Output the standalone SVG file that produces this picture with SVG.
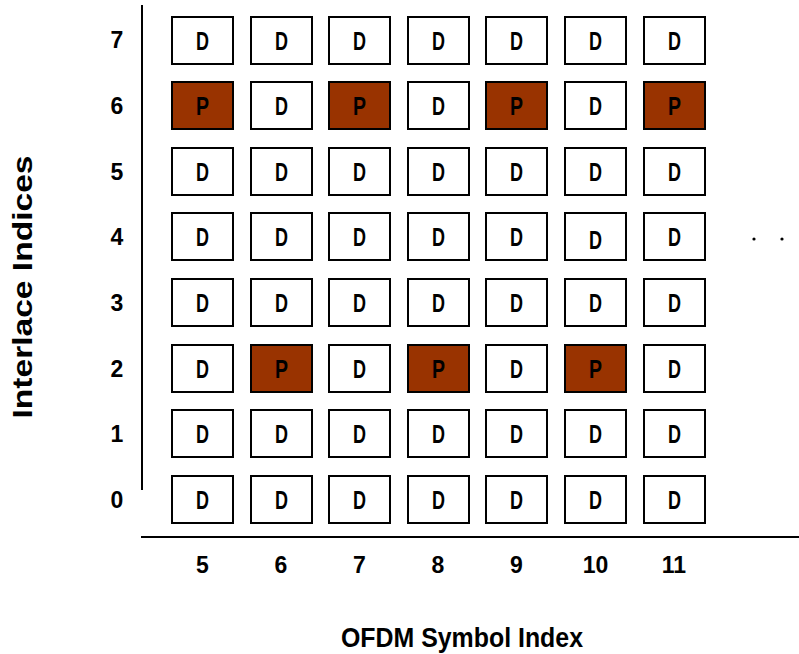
<svg xmlns="http://www.w3.org/2000/svg" width="799" height="654" viewBox="0 0 799 654">
<style>
.box{fill:#fff;stroke:#000;stroke-width:2}
.pbox{fill:#993300;stroke:#000;stroke-width:2}
.lt{font-family:"Liberation Sans",Arial,sans-serif;font-size:26px;font-weight:bold;text-anchor:middle;fill:#000}
.num{font-family:"Liberation Sans",Arial,sans-serif;font-size:23px;font-weight:bold;text-anchor:middle;fill:#000}
.title{font-family:"Liberation Sans",Arial,sans-serif;font-size:27px;font-weight:bold;text-anchor:middle;fill:#000}
.ax{stroke:#000;stroke-width:2;fill:none}
</style>
<g id="axes">
<line class="ax" x1="142" y1="5" x2="142" y2="490"/>
<line class="ax" x1="141" y1="537" x2="799" y2="537"/>
<circle cx="754" cy="239" r="1.6" fill="#000"/>
<circle cx="782" cy="239" r="1.6" fill="#000"/>
</g>
<g id="row-labels">
<text class="num" x="117" y="48">7</text>
<text class="num" x="117" y="114">6</text>
<text class="num" x="117" y="180">5</text>
<text class="num" x="117" y="245">4</text>
<text class="num" x="117" y="311">3</text>
<text class="num" x="117" y="377">2</text>
<text class="num" x="117" y="442">1</text>
<text class="num" x="117" y="508">0</text>
</g>
<g id="col-labels">
<text class="num" x="202.5" y="573">5</text>
<text class="num" x="281" y="573">6</text>
<text class="num" x="359.5" y="573">7</text>
<text class="num" x="438" y="573">8</text>
<text class="num" x="516.5" y="573">9</text>
<text class="num" x="595.5" y="573">10</text>
<text class="num" x="674" y="573">11</text>
</g>
<g id="axis-titles">
<text class="title" x="462" y="647" textLength="242" lengthAdjust="spacingAndGlyphs">OFDM  Symbol  Index</text>
<text class="title" transform="translate(32,287) rotate(-90)" x="0" y="0" textLength="263" lengthAdjust="spacingAndGlyphs">Interlace  Indices</text>
</g>
<g id="grid">
<!-- row 7 -->
<g id="r7c5"><rect class="box" x="172" y="17" width="61" height="47"/><text class="lt" x="202.5" y="50" textLength="13" lengthAdjust="spacingAndGlyphs">D</text></g>
<g id="r7c6"><rect class="box" x="251" y="17" width="61" height="47"/><text class="lt" x="281.5" y="50" textLength="13" lengthAdjust="spacingAndGlyphs">D</text></g>
<g id="r7c7"><rect class="box" x="329" y="17" width="61" height="47"/><text class="lt" x="359.5" y="50" textLength="13" lengthAdjust="spacingAndGlyphs">D</text></g>
<g id="r7c8"><rect class="box" x="408" y="17" width="61" height="47"/><text class="lt" x="438.5" y="50" textLength="13" lengthAdjust="spacingAndGlyphs">D</text></g>
<g id="r7c9"><rect class="box" x="486" y="17" width="61" height="47"/><text class="lt" x="516.5" y="50" textLength="13" lengthAdjust="spacingAndGlyphs">D</text></g>
<g id="r7c10"><rect class="box" x="565" y="17" width="61" height="47"/><text class="lt" x="595.5" y="50" textLength="13" lengthAdjust="spacingAndGlyphs">D</text></g>
<g id="r7c11"><rect class="box" x="644" y="17" width="61" height="47"/><text class="lt" x="674.5" y="50" textLength="13" lengthAdjust="spacingAndGlyphs">D</text></g>
<!-- row 6 -->
<g id="r6c5"><rect class="pbox" x="172" y="82" width="61" height="47"/><text class="lt" x="202.5" y="115" textLength="13" lengthAdjust="spacingAndGlyphs">P</text></g>
<g id="r6c6"><rect class="box" x="251" y="82" width="61" height="47"/><text class="lt" x="281.5" y="115" textLength="13" lengthAdjust="spacingAndGlyphs">D</text></g>
<g id="r6c7"><rect class="pbox" x="329" y="82" width="61" height="47"/><text class="lt" x="359.5" y="115" textLength="13" lengthAdjust="spacingAndGlyphs">P</text></g>
<g id="r6c8"><rect class="box" x="408" y="82" width="61" height="47"/><text class="lt" x="438.5" y="115" textLength="13" lengthAdjust="spacingAndGlyphs">D</text></g>
<g id="r6c9"><rect class="pbox" x="486" y="82" width="61" height="47"/><text class="lt" x="516.5" y="115" textLength="13" lengthAdjust="spacingAndGlyphs">P</text></g>
<g id="r6c10"><rect class="box" x="565" y="82" width="61" height="47"/><text class="lt" x="595.5" y="115" textLength="13" lengthAdjust="spacingAndGlyphs">D</text></g>
<g id="r6c11"><rect class="pbox" x="644" y="82" width="61" height="47"/><text class="lt" x="674.5" y="115" textLength="13" lengthAdjust="spacingAndGlyphs">P</text></g>
<!-- row 5 -->
<g id="r5c5"><rect class="box" x="172" y="148" width="61" height="47"/><text class="lt" x="202.5" y="181" textLength="13" lengthAdjust="spacingAndGlyphs">D</text></g>
<g id="r5c6"><rect class="box" x="251" y="148" width="61" height="47"/><text class="lt" x="281.5" y="181" textLength="13" lengthAdjust="spacingAndGlyphs">D</text></g>
<g id="r5c7"><rect class="box" x="329" y="148" width="61" height="47"/><text class="lt" x="359.5" y="181" textLength="13" lengthAdjust="spacingAndGlyphs">D</text></g>
<g id="r5c8"><rect class="box" x="408" y="148" width="61" height="47"/><text class="lt" x="438.5" y="181" textLength="13" lengthAdjust="spacingAndGlyphs">D</text></g>
<g id="r5c9"><rect class="box" x="486" y="148" width="61" height="47"/><text class="lt" x="516.5" y="181" textLength="13" lengthAdjust="spacingAndGlyphs">D</text></g>
<g id="r5c10"><rect class="box" x="565" y="148" width="61" height="47"/><text class="lt" x="595.5" y="181" textLength="13" lengthAdjust="spacingAndGlyphs">D</text></g>
<g id="r5c11"><rect class="box" x="644" y="148" width="61" height="47"/><text class="lt" x="674.5" y="181" textLength="13" lengthAdjust="spacingAndGlyphs">D</text></g>
<!-- row 4 -->
<g id="r4c5"><rect class="box" x="172" y="213" width="61" height="47"/><text class="lt" x="202.5" y="246" textLength="13" lengthAdjust="spacingAndGlyphs">D</text></g>
<g id="r4c6"><rect class="box" x="251" y="213" width="61" height="47"/><text class="lt" x="281.5" y="246" textLength="13" lengthAdjust="spacingAndGlyphs">D</text></g>
<g id="r4c7"><rect class="box" x="329" y="213" width="61" height="47"/><text class="lt" x="359.5" y="246" textLength="13" lengthAdjust="spacingAndGlyphs">D</text></g>
<g id="r4c8"><rect class="box" x="408" y="213" width="61" height="47"/><text class="lt" x="438.5" y="246" textLength="13" lengthAdjust="spacingAndGlyphs">D</text></g>
<g id="r4c9"><rect class="box" x="486" y="213" width="61" height="47"/><text class="lt" x="516.5" y="246" textLength="13" lengthAdjust="spacingAndGlyphs">D</text></g>
<g id="r4c10"><rect class="box" x="565" y="213" width="61" height="47"/><text class="lt" x="595.5" y="249" textLength="13" lengthAdjust="spacingAndGlyphs">D</text></g>
<g id="r4c11"><rect class="box" x="644" y="213" width="61" height="47"/><text class="lt" x="674.5" y="246" textLength="13" lengthAdjust="spacingAndGlyphs">D</text></g>
<!-- row 3 -->
<g id="r3c5"><rect class="box" x="172" y="279" width="61" height="47"/><text class="lt" x="202.5" y="312" textLength="13" lengthAdjust="spacingAndGlyphs">D</text></g>
<g id="r3c6"><rect class="box" x="251" y="279" width="61" height="47"/><text class="lt" x="281.5" y="312" textLength="13" lengthAdjust="spacingAndGlyphs">D</text></g>
<g id="r3c7"><rect class="box" x="329" y="279" width="61" height="47"/><text class="lt" x="359.5" y="312" textLength="13" lengthAdjust="spacingAndGlyphs">D</text></g>
<g id="r3c8"><rect class="box" x="408" y="279" width="61" height="47"/><text class="lt" x="438.5" y="312" textLength="13" lengthAdjust="spacingAndGlyphs">D</text></g>
<g id="r3c9"><rect class="box" x="486" y="279" width="61" height="47"/><text class="lt" x="516.5" y="312" textLength="13" lengthAdjust="spacingAndGlyphs">D</text></g>
<g id="r3c10"><rect class="box" x="565" y="279" width="61" height="47"/><text class="lt" x="595.5" y="312" textLength="13" lengthAdjust="spacingAndGlyphs">D</text></g>
<g id="r3c11"><rect class="box" x="644" y="279" width="61" height="47"/><text class="lt" x="674.5" y="312" textLength="13" lengthAdjust="spacingAndGlyphs">D</text></g>
<!-- row 2 -->
<g id="r2c5"><rect class="box" x="172" y="345" width="61" height="47"/><text class="lt" x="202.5" y="378" textLength="13" lengthAdjust="spacingAndGlyphs">D</text></g>
<g id="r2c6"><rect class="pbox" x="251" y="345" width="61" height="47"/><text class="lt" x="281.5" y="378" textLength="13" lengthAdjust="spacingAndGlyphs">P</text></g>
<g id="r2c7"><rect class="box" x="329" y="345" width="61" height="47"/><text class="lt" x="359.5" y="378" textLength="13" lengthAdjust="spacingAndGlyphs">D</text></g>
<g id="r2c8"><rect class="pbox" x="408" y="345" width="61" height="47"/><text class="lt" x="438.5" y="378" textLength="13" lengthAdjust="spacingAndGlyphs">P</text></g>
<g id="r2c9"><rect class="box" x="486" y="345" width="61" height="47"/><text class="lt" x="516.5" y="378" textLength="13" lengthAdjust="spacingAndGlyphs">D</text></g>
<g id="r2c10"><rect class="pbox" x="565" y="345" width="61" height="47"/><text class="lt" x="595.5" y="378" textLength="13" lengthAdjust="spacingAndGlyphs">P</text></g>
<g id="r2c11"><rect class="box" x="644" y="345" width="61" height="47"/><text class="lt" x="674.5" y="378" textLength="13" lengthAdjust="spacingAndGlyphs">D</text></g>
<!-- row 1 -->
<g id="r1c5"><rect class="box" x="172" y="410" width="61" height="47"/><text class="lt" x="202.5" y="443" textLength="13" lengthAdjust="spacingAndGlyphs">D</text></g>
<g id="r1c6"><rect class="box" x="251" y="410" width="61" height="47"/><text class="lt" x="281.5" y="443" textLength="13" lengthAdjust="spacingAndGlyphs">D</text></g>
<g id="r1c7"><rect class="box" x="329" y="410" width="61" height="47"/><text class="lt" x="359.5" y="443" textLength="13" lengthAdjust="spacingAndGlyphs">D</text></g>
<g id="r1c8"><rect class="box" x="408" y="410" width="61" height="47"/><text class="lt" x="438.5" y="443" textLength="13" lengthAdjust="spacingAndGlyphs">D</text></g>
<g id="r1c9"><rect class="box" x="486" y="410" width="61" height="47"/><text class="lt" x="516.5" y="443" textLength="13" lengthAdjust="spacingAndGlyphs">D</text></g>
<g id="r1c10"><rect class="box" x="565" y="410" width="61" height="47"/><text class="lt" x="595.5" y="443" textLength="13" lengthAdjust="spacingAndGlyphs">D</text></g>
<g id="r1c11"><rect class="box" x="644" y="410" width="61" height="47"/><text class="lt" x="674.5" y="443" textLength="13" lengthAdjust="spacingAndGlyphs">D</text></g>
<!-- row 0 -->
<g id="r0c5"><rect class="box" x="172" y="476" width="61" height="47"/><text class="lt" x="202.5" y="509" textLength="13" lengthAdjust="spacingAndGlyphs">D</text></g>
<g id="r0c6"><rect class="box" x="251" y="476" width="61" height="47"/><text class="lt" x="281.5" y="509" textLength="13" lengthAdjust="spacingAndGlyphs">D</text></g>
<g id="r0c7"><rect class="box" x="329" y="476" width="61" height="47"/><text class="lt" x="359.5" y="509" textLength="13" lengthAdjust="spacingAndGlyphs">D</text></g>
<g id="r0c8"><rect class="box" x="408" y="476" width="61" height="47"/><text class="lt" x="438.5" y="509" textLength="13" lengthAdjust="spacingAndGlyphs">D</text></g>
<g id="r0c9"><rect class="box" x="486" y="476" width="61" height="47"/><text class="lt" x="516.5" y="509" textLength="13" lengthAdjust="spacingAndGlyphs">D</text></g>
<g id="r0c10"><rect class="box" x="565" y="476" width="61" height="47"/><text class="lt" x="595.5" y="509" textLength="13" lengthAdjust="spacingAndGlyphs">D</text></g>
<g id="r0c11"><rect class="box" x="644" y="476" width="61" height="47"/><text class="lt" x="674.5" y="509" textLength="13" lengthAdjust="spacingAndGlyphs">D</text></g>
</g>
</svg>
